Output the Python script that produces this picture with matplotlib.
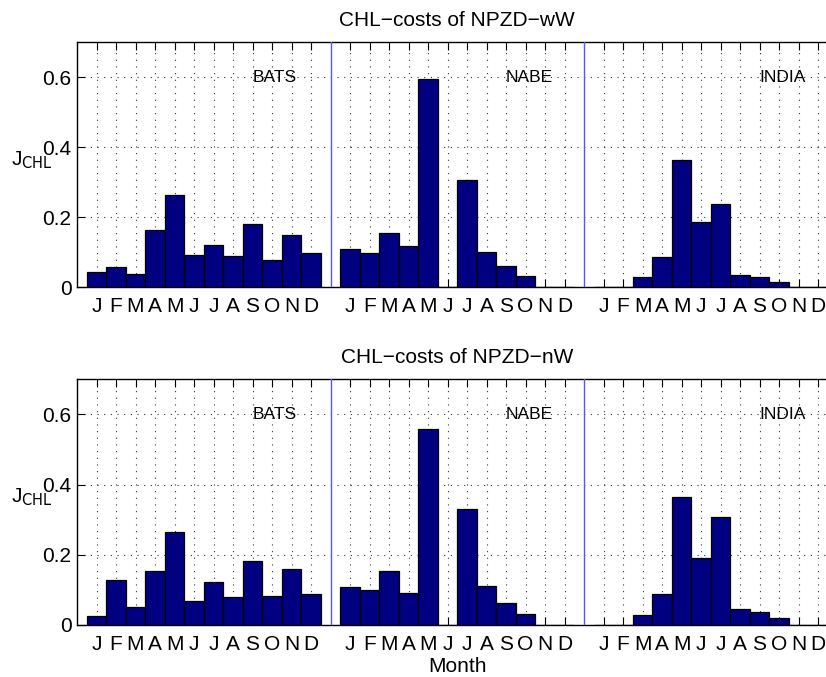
import numpy as np
import matplotlib
matplotlib.use('Agg')
import matplotlib.pyplot as plt

plt.rcParams['font.family'] = ['Liberation Sans', 'DejaVu Sans']

months = ['J', 'F', 'M', 'A', 'M', 'J', 'J', 'A', 'S', 'O', 'N', 'D']
regions = ['BATS', 'NABE', 'INDIA']

# CHL costs, NPZD-wW
ww_bats = [0.043, 0.057, 0.038, 0.163, 0.263, 0.091, 0.120, 0.089, 0.180, 0.077, 0.149, 0.098]
ww_nabe = [0.109, 0.097, 0.154, 0.117, 0.596, 0.0, 0.306, 0.102, 0.060, 0.031, 0.0, 0.0]
ww_india = [0.0, 0.0, 0.030, 0.087, 0.363, 0.186, 0.239, 0.034, 0.030, 0.014, 0.0, 0.0]

# CHL costs, NPZD-nW
nw_bats = [0.026, 0.128, 0.051, 0.155, 0.265, 0.069, 0.122, 0.081, 0.182, 0.083, 0.159, 0.087]
nw_nabe = [0.107, 0.099, 0.153, 0.090, 0.558, 0.0, 0.331, 0.110, 0.062, 0.030, 0.0, 0.0]
nw_india = [0.0, 0.0, 0.029, 0.088, 0.364, 0.190, 0.308, 0.045, 0.036, 0.020, 0.0, 0.0]

panels = [
    ('CHL\u2212costs of NPZD\u2212wW', [ww_bats, ww_nabe, ww_india]),
    ('CHL\u2212costs of NPZD\u2212nW', [nw_bats, nw_nabe, nw_india]),
]

W, H = 826, 677
fig = plt.figure(figsize=(W / 100, H / 100), dpi=100)

left = 77 / W
width = 760.5 / W
boxes = [(1 - 287.3 / H, 245 / H), (1 - 625 / H, 245.7 / H)]
ylab_base = [165, 502]

for i, (title, series) in enumerate(panels):
    ax = fig.add_axes([left, boxes[i][0], width, boxes[i][1]])
    xt = []
    xl = []
    for k, vals in enumerate(series):
        x = np.arange(1, 13) + 13 * k
        ax.bar(x, vals, width=1.0, color='#000080', edgecolor='black', linewidth=0.9, zorder=3)
        xt += list(x)
        xl += months
        ax.text(9 + 13 * k, 0.6, regions[k], fontsize=12.5, ha='left', va='center', zorder=4)
        if k > 0:
            ax.plot([13 * k, 13 * k], [0, 0.7], color='#5555ff', lw=1.0, zorder=4)
    ax.set_xlim(0, 39)
    ax.set_ylim(0, 0.7)
    ax.set_xticks(xt)
    ax.set_xticklabels(xl)
    ax.set_yticks([0, 0.2, 0.4, 0.6])
    ax.set_yticklabels(['0', '0.2', '0.4', '0.6'])
    ax.tick_params(direction='in', top=True, right=True, length=6, width=0.8,
                   labelsize=15)
    ax.tick_params(axis='x', pad=7)
    ax.tick_params(axis='y', pad=4)
    ax.grid(True, linestyle=(0, (1, 5)), color='#333333', linewidth=0.8, zorder=0)
    for s in ax.spines.values():
        s.set_linewidth(1.0)
    ax.set_title(title, fontsize=15, pad=12)
    fig.text(11 / W, 1 - ylab_base[i] / H, r'J$_{\mathrm{CHL}}$', fontsize=15,
             ha='left', va='baseline')
    if i == 1:
        ax.set_xlabel('Month', fontsize=15, labelpad=2)

fig.savefig('out.png', dpi=100)
